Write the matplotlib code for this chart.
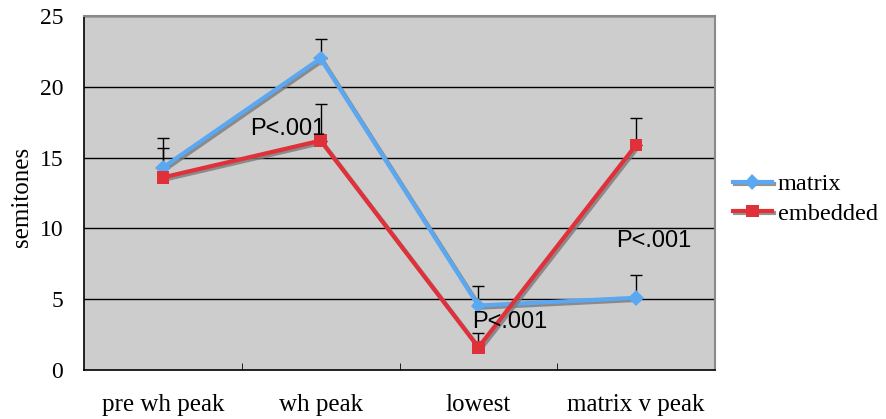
import matplotlib
matplotlib.use("Agg")
import matplotlib.pyplot as plt
import matplotlib.patheffects as pe
import numpy as np

categories = ["pre wh peak", "wh peak", "lowest", "matrix v peak"]
matrix_vals = [14.3, 22.0, 4.55, 5.1]
matrix_err = [2.1, 1.4, 1.35, 1.6]
embedded_vals = [13.6, 16.2, 1.6, 15.9]
embedded_err = [2.1, 2.6, 1.0, 1.9]
yticks = [0, 5, 10, 15, 20, 25]
annotations = [("P<.001", 0.79, 17.0), ("P<.001", 2.2, 3.4), ("P<.001", 3.11, 9.1)]

fig = plt.figure(figsize=(8.86, 4.19), dpi=100)
ax = fig.add_axes([84/886, 1-370/419, (715-84)/886, (370-16)/419])
ax.set_facecolor("#CDCDCD")

x = np.arange(len(categories))
shadow_line = [pe.SimpleLineShadow(offset=(1.5, -1.5), shadow_color="#7A7A7A", alpha=0.8), pe.Normal()]

for y in yticks[1:]:
    ax.axhline(y, color="black", lw=1.0, zorder=1)

ax.errorbar(x, matrix_vals, yerr=[np.zeros(len(x)), matrix_err], fmt="none",
            ecolor="black", elinewidth=1.0, capsize=4, capthick=1.0, zorder=2)
ax.errorbar(x, embedded_vals, yerr=[np.zeros(len(x)), embedded_err], fmt="none",
            ecolor="black", elinewidth=1.0, capsize=4, capthick=1.0, zorder=2)

l1, = ax.plot(x, matrix_vals, color="#5AA7F2", lw=3, marker="D", markersize=8,
              markeredgewidth=0, label="matrix", zorder=3)
l1.set_path_effects(shadow_line)
l2, = ax.plot(x, embedded_vals, color="#E0303A", lw=3, marker="s", markersize=9,
              markeredgewidth=0, label="embedded", zorder=4)
l2.set_path_effects(shadow_line)

for txt, xx, yy in annotations:
    ax.text(xx, yy, txt, ha="center", va="center", fontsize=17,
            family="Liberation Sans", color="black", zorder=5)

ax.set_xlim(-0.5, len(categories) - 0.5)
ax.set_ylim(0, 25)
ax.set_yticks(yticks)
ax.set_yticklabels([str(v) for v in yticks], family="Liberation Serif", fontsize=17)
ax.set_xticks(x)
ax.set_xticklabels(categories, family="Liberation Serif", fontsize=18)
ax.tick_params(axis="x", length=0, pad=17.5)
ax.tick_params(axis="y", length=0, pad=15)
ax.set_xticks([0.5, 1.5, 2.5], minor=True)
ax.tick_params(axis="x", which="minor", direction="in", length=5, color="black")
ax.set_ylabel("semitones", family="Liberation Serif", fontsize=18)
ax.yaxis.set_label_coords((33-84)/631, 0.49)

for side in ["left", "bottom"]:
    ax.spines[side].set_color("black")
    ax.spines[side].set_linewidth(1.2)
for side in ["top", "right"]:
    ax.spines[side].set_color("#8A8A8A")
    ax.spines[side].set_linewidth(1.5)

leg = fig.legend(handles=[l1, l2], loc="center left", bbox_to_anchor=(733/886, 1-199/419),
                 frameon=False, prop={"family": "Liberation Serif", "size": 17.5},
                 handlelength=1.6, handletextpad=0.25, labelspacing=0.3, borderpad=0,
                 borderaxespad=0)

fig.savefig("out.png", dpi=100)
